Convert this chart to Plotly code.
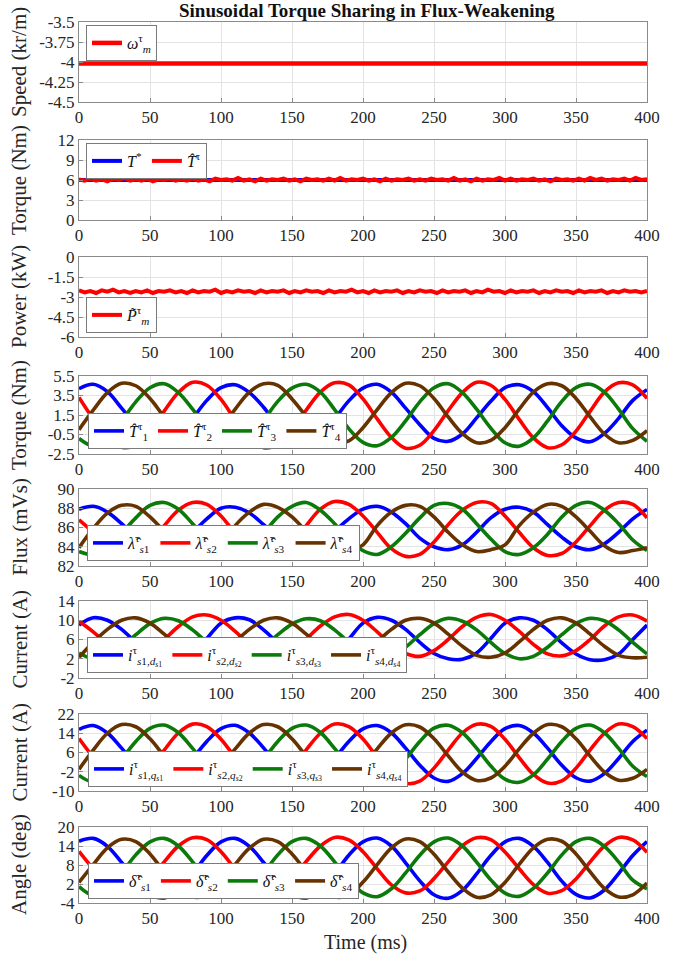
import plotly.graph_objects as go

# ---------------- data ----------------
t_slow = [0, 50, 100, 150, 200, 250, 300, 350, 400]
speed_krpm = [-4.02, -4.02, -4.025, -4.02, -4.02, -4.02, -4.015, -4.02, -4.02]

t_fast = list(range(0, 401, 4))
torque_ref = [6.0] * len(t_fast)
torque_est = [6.1, 5.9, 6.2, 5.9, 6.1, 5.8, 6.2, 6.0, 6.3, 5.9,
              6.1, 5.9, 6.2, 5.8, 6.1, 6.0, 6.2, 5.9, 6.1, 5.9,
              6.2, 5.9, 6.1, 5.8, 6.2, 6.0, 6.1, 5.9, 6.3, 5.9,
              6.1, 5.8, 6.2, 5.9, 6.1, 6.0, 6.2, 5.9, 6.1, 5.8,
              6.2, 6.0, 6.1, 5.9, 6.2, 5.9, 6.3, 5.9, 6.1, 6.0,
              6.2, 5.9, 6.1, 5.8, 6.2, 5.9, 6.1, 6.0, 6.2, 5.9,
              6.1, 5.9, 6.2, 6.0, 6.1, 5.9, 6.3, 5.9, 6.1, 5.8,
              6.2, 5.9, 6.1, 6.0, 6.3, 5.9, 6.2, 5.9, 6.1, 6.0,
              6.2, 5.9, 6.1, 5.8, 6.2, 6.0, 6.1, 5.9, 6.2, 5.9,
              6.3, 6.0, 6.2, 5.9, 6.1, 6.0, 6.2, 5.9, 6.3, 6.0, 6.1]
power_kw = [-2.50, -2.65, -2.55, -2.70, -2.50, -2.60, -2.45, -2.65, -2.55, -2.70,
            -2.55, -2.65, -2.50, -2.70, -2.55, -2.60, -2.50, -2.65, -2.55, -2.70,
            -2.50, -2.65, -2.55, -2.60, -2.45, -2.70, -2.55, -2.65, -2.50, -2.60,
            -2.55, -2.70, -2.50, -2.65, -2.55, -2.60, -2.50, -2.70, -2.55, -2.65,
            -2.50, -2.60, -2.55, -2.70, -2.50, -2.65, -2.55, -2.60, -2.45, -2.65,
            -2.55, -2.70, -2.50, -2.65, -2.55, -2.60, -2.50, -2.70, -2.55, -2.65,
            -2.50, -2.60, -2.55, -2.70, -2.50, -2.65, -2.55, -2.60, -2.50, -2.70,
            -2.55, -2.65, -2.45, -2.60, -2.55, -2.70, -2.50, -2.65, -2.55, -2.60,
            -2.50, -2.70, -2.55, -2.65, -2.50, -2.60, -2.55, -2.70, -2.50, -2.65,
            -2.55, -2.60, -2.50, -2.70, -2.55, -2.65, -2.50, -2.60, -2.55, -2.65, -2.55]

t_ms = list(range(0, 401, 10))

torque_1 = [4.20, 4.65, 3.90, 2.20, 0.45, -0.90, -1.20, -0.40, 1.15, 3.00,
            4.30, 4.60, 3.80, 2.30, 0.40, -0.85, -1.25, -0.50, 1.10, 2.95,
            4.25, 4.65, 3.85, 2.20, 0.50, -0.90, -1.20, -0.45, 1.20, 2.90,
            4.30, 4.60, 3.90, 2.25, 0.40, -0.85, -1.25, -0.40, 1.15, 3.00, 4.10]
torque_2 = [3.30, 1.10, -0.80, -1.80, -1.60, -0.10, 1.90, 3.80, 4.85, 4.55,
            3.10, 1.00, -0.85, -1.85, -1.55, -0.15, 2.00, 3.85, 4.80, 4.60,
            3.15, 1.10, -0.80, -1.90, -1.60, -0.10, 1.95, 3.80, 4.85, 4.55,
            3.10, 1.05, -0.85, -1.85, -1.55, -0.15, 1.90, 3.85, 4.80, 4.60, 3.20]
torque_3 = [-0.90, -1.65, -0.80, 0.90, 2.85, 4.30, 4.70, 3.80, 2.10, 0.15,
            -1.30, -1.70, -0.85, 0.95, 2.90, 4.25, 4.65, 3.85, 2.05, 0.10,
            -1.30, -1.65, -0.80, 0.90, 2.85, 4.30, 4.70, 3.80, 2.10, 0.15,
            -1.35, -1.70, -0.85, 0.90, 2.90, 4.30, 4.65, 3.85, 2.10, 0.10, -1.20]
torque_4 = [0.00, 2.00, 3.80, 4.75, 4.50, 3.20, 1.30, -0.40, -1.35, -1.10,
            0.15, 2.10, 3.85, 4.70, 4.55, 3.15, 1.35, -0.45, -1.30, -1.15,
            0.20, 2.05, 3.80, 4.75, 4.50, 3.20, 1.30, -0.40, -1.35, -1.10,
            0.20, 2.10, 3.85, 4.70, 4.50, 3.20, 1.30, -0.45, -1.35, -1.10, -0.10]

flux_1 = [87.9, 88.2, 87.6, 86.4, 85.0, 84.0, 83.7, 84.3, 85.5, 86.9,
          88.0, 88.1, 87.5, 86.3, 85.0, 83.9, 83.8, 84.3, 85.6, 86.9,
          87.9, 88.2, 87.6, 86.4, 84.9, 84.0, 83.7, 84.2, 85.5, 87.0,
          87.9, 88.1, 87.6, 86.3, 85.0, 84.0, 83.7, 84.3, 85.5, 86.9, 87.9]
flux_2 = [86.8, 85.5, 83.9, 83.1, 83.3, 84.5, 86.2, 87.8, 88.6, 88.4,
          87.2, 85.4, 83.9, 83.0, 83.3, 84.4, 86.2, 87.9, 88.7, 88.4,
          87.2, 85.5, 83.8, 83.0, 83.2, 84.5, 86.3, 87.8, 88.6, 88.5,
          87.2, 85.5, 83.9, 83.1, 83.3, 84.5, 86.2, 87.8, 88.6, 88.4, 87.0]
flux_3 = [83.5, 83.2, 83.9, 85.4, 87.0, 88.3, 88.6, 87.9, 86.4, 84.8,
          83.5, 83.3, 83.9, 85.4, 87.1, 88.2, 88.6, 87.8, 86.4, 84.7,
          83.6, 83.2, 84.0, 85.4, 87.0, 88.3, 88.5, 87.9, 86.4, 84.8,
          83.5, 83.2, 83.9, 85.3, 87.1, 88.3, 88.6, 87.8, 86.4, 84.7, 83.6]
flux_4 = [83.9, 85.9, 87.5, 88.3, 88.2, 87.1, 85.6, 84.2, 83.5, 83.6,
          84.2, 86.2, 87.6, 88.4, 88.1, 87.1, 85.6, 84.2, 83.4, 83.6,
          84.2, 86.2, 87.6, 88.3, 88.2, 87.1, 85.5, 84.2, 83.5, 83.7,
          84.2, 86.2, 87.6, 88.4, 88.2, 87.1, 85.6, 84.1, 83.4, 83.6, 83.9]

id_1 = [9.0, 10.5, 10.0, 8.1, 5.4, 3.0, 2.0, 1.9, 3.2, 6.2,
        9.4, 10.5, 10.1, 8.0, 5.3, 3.0, 1.9, 2.0, 3.1, 6.1,
        9.4, 10.6, 10.0, 8.1, 5.4, 3.1, 2.0, 1.9, 3.2, 6.2,
        9.4, 10.5, 10.0, 8.0, 5.3, 3.0, 1.8, 1.8, 3.0, 6.0, 9.0]
id_2 = [9.8, 7.6, 5.0, 3.0, 2.6, 3.7, 6.0, 8.7, 10.7, 11.1,
        10.0, 7.7, 5.0, 3.0, 2.5, 3.6, 6.1, 8.8, 10.7, 11.2,
        10.0, 7.6, 4.9, 3.1, 2.5, 3.7, 6.0, 8.7, 10.6, 11.2,
        10.0, 7.7, 5.0, 3.0, 2.6, 3.7, 6.0, 8.8, 10.7, 11.1, 9.8]
id_3 = [3.2, 2.0, 2.5, 4.4, 7.0, 9.3, 10.4, 9.9, 8.0, 5.4,
        3.1, 2.0, 2.5, 4.4, 7.0, 9.2, 10.3, 9.9, 8.0, 5.4,
        3.1, 2.0, 2.6, 4.4, 7.0, 9.3, 10.4, 9.8, 8.0, 5.4,
        3.1, 2.0, 2.5, 4.4, 7.0, 9.3, 10.4, 9.9, 8.0, 5.4, 3.0]
id_4 = [2.3, 5.4, 8.1, 10.0, 10.5, 9.4, 7.1, 4.6, 2.7, 2.2,
        3.2, 5.6, 8.1, 10.0, 10.5, 9.4, 7.1, 4.6, 2.7, 2.2,
        3.3, 5.6, 8.1, 10.0, 10.4, 9.4, 7.1, 4.6, 2.7, 2.3,
        3.2, 5.5, 8.1, 10.0, 10.5, 9.4, 7.1, 4.6, 2.7, 2.2, 2.3]

iq_1 = [15.6, 17.2, 14.1, 7.8, 0.7, -4.6, -5.9, -2.8, 3.5, 10.6,
        15.9, 17.3, 14.1, 7.9, 0.6, -4.5, -5.9, -2.9, 3.4, 10.6,
        15.8, 17.2, 14.2, 7.8, 0.7, -4.6, -6.0, -2.8, 3.5, 10.5,
        15.9, 17.2, 14.1, 7.8, 0.7, -4.5, -5.9, -2.8, 3.5, 10.6, 15.3]
iq_2 = [11.8, 4.0, -3.0, -6.7, -5.8, -0.5, 7.0, 14.1, 17.8, 16.8,
        11.5, 3.9, -3.1, -6.8, -5.8, -0.6, 7.1, 14.0, 17.8, 16.8,
        11.6, 4.0, -3.0, -6.8, -5.9, -0.5, 7.0, 14.1, 17.7, 16.9,
        11.5, 3.9, -3.1, -6.7, -5.8, -0.5, 7.1, 14.0, 17.8, 16.8, 11.8]
iq_3 = [-3.5, -6.2, -3.2, 3.3, 10.6, 16.0, 17.4, 14.2, 7.7, 0.4,
        -5.0, -6.4, -3.3, 3.2, 10.6, 16.0, 17.4, 14.3, 7.7, 0.4,
        -5.0, -6.4, -3.2, 3.3, 10.6, 16.1, 17.3, 14.2, 7.8, 0.4,
        -5.1, -6.4, -3.3, 3.3, 10.6, 16.0, 17.4, 14.2, 7.7, 0.3, -4.0]
iq_4 = [-1.0, 7.0, 14.0, 17.6, 16.7, 11.7, 4.5, -2.1, -5.6, -4.7,
        0.3, 7.5, 14.1, 17.6, 16.7, 11.7, 4.5, -2.0, -5.6, -4.7,
        0.3, 7.5, 14.1, 17.5, 16.6, 11.7, 4.6, -2.1, -5.6, -4.6,
        0.3, 7.5, 14.0, 17.6, 16.7, 11.7, 4.5, -2.1, -5.5, -4.7, -1.0]

angle_1 = [15.5, 16.4, 13.9, 8.8, 3.0, -1.3, -2.4, 0.1, 5.2, 11.0,
           15.3, 16.4, 13.9, 8.8, 2.9, -1.3, -2.4, 0.1, 5.2, 11.1,
           15.3, 16.5, 14.0, 8.7, 3.0, -1.4, -2.5, 0.0, 5.2, 11.0,
           15.3, 16.4, 13.9, 8.8, 2.9, -1.3, -2.4, 0.1, 5.3, 11.0, 15.4]
angle_2 = [12.3, 6.8, 1.8, -0.8, -0.2, 3.6, 9.0, 14.0, 16.6, 16.0,
           12.2, 6.7, 1.8, -0.9, -0.1, 3.6, 9.1, 14.0, 16.7, 15.9,
           12.2, 6.8, 1.7, -0.8, -0.2, 3.7, 9.0, 14.1, 16.6, 16.0,
           12.1, 6.8, 1.8, -0.9, -0.1, 3.6, 9.0, 14.0, 16.7, 15.9, 12.0]
angle_3 = [1.2, -1.5, 0.5, 5.5, 11.2, 15.3, 16.4, 14.0, 9.0, 3.3,
           -0.9, -1.9, 0.5, 5.5, 11.2, 15.4, 16.4, 14.0, 9.0, 3.3,
           -0.8, -2.0, 0.5, 5.5, 11.1, 15.3, 16.5, 14.0, 8.9, 3.3,
           -0.9, -1.9, 0.6, 5.5, 11.2, 15.4, 16.4, 13.9, 9.0, 3.2, 0.5]
angle_4 = [2.5, 8.1, 13.4, 16.1, 15.4, 11.5, 5.8, 0.6, -2.1, -1.4,
           2.5, 8.2, 13.3, 16.1, 15.4, 11.5, 5.9, 0.6, -2.1, -1.5,
           2.6, 8.1, 13.4, 16.2, 15.4, 11.4, 5.8, 0.7, -2.2, -1.4,
           2.5, 8.2, 13.4, 16.1, 15.5, 11.5, 5.8, 0.6, -2.1, -1.4, 2.3]

x_ticks = [0, 50, 100, 150, 200, 250, 300, 350, 400]
y_titles = ["Speed (kr/m)", "Torque (Nm)", "Power (kW)", "Torque (Nm)",
            "Flux (mVs)", "Current (A)", "Current (A)", "Angle (deg)"]
y_ranges = [[-4.5, -3.5], [0, 12], [-6, 0], [-2.5, 5.5], [82, 90], [-2, 14], [-10, 22], [-4, 20]]
y_tickvals = [[-4.5, -4.25, -4, -3.75, -3.5], [0, 3, 6, 9, 12], [-6, -4.5, -3, -1.5, 0],
              [-2.5, -0.5, 1.5, 3.5, 5.5], [82, 84, 86, 88, 90], [-2, 2, 6, 10, 14],
              [-10, -2, 6, 14, 22], [-4, 2, 8, 14, 20]]
y_ticktext = [["-4.5", "-4.25", "-4", "-3.75", "-3.5"], ["0", "3", "6", "9", "12"],
              ["-6", "-4.5", "-3", "-1.5", "0"], ["-2.5", "-0.5", "1.5", "3.5", "5.5"],
              ["82", "84", "86", "88", "90"], ["-2", "2", "6", "10", "14"],
              ["-10", "-2", "6", "14", "22"], ["-4", "2", "8", "14", "20"]]

# ---------------- styling / layout ----------------
W, H = 681, 956
PX_LEFT, PX_RIGHT = 79, 647   # plot area edges in page pixels
L = PX_LEFT
R = W - PX_RIGHT
PW = W - L - R


def fx(px):
    return (px - L) / PW


def fy(py):
    return 1 - py / H


panels = [(22, 102), (140, 220), (257, 337), (376, 454),
          (489, 566), (601, 678), (714, 791), (827, 903)]
FONT = "Liberation Serif"
BLUE, RED, GREEN, BROWN = "#0000ff", "#ff0000", "#0b7a0b", "#663300"
GRID = "#e3e3e3"
AXC = "#8a8a8a"
TXT = "#262626"

fig = go.Figure()


def add(n, x, y, color, name, width=3.6, shape="spline"):
    fig.add_trace(go.Scatter(
        x=x, y=y, mode="lines", name=name, showlegend=True,
        line=dict(color=color, width=width, shape=shape),
        xaxis=f"x{n}", yaxis=f"y{n}",
        legend="legend" if n == 1 else f"legend{n}"))


add(1, t_slow, speed_krpm, RED, "<i>ω</i><sup>τ</sup><sub><i>m</i></sub>", width=4.5, shape="linear")
add(2, t_fast, torque_ref, BLUE, "<i>T</i><sup>*</sup>", width=4, shape="linear")
add(2, t_fast, torque_est, RED, "<i>T̂</i><sup>τ</sup>", width=4, shape="linear")
add(3, t_fast, power_kw, RED, "<i>P̃</i><sup>τ</sup><sub><i>m</i></sub>", width=4, shape="linear")

sets = [
    (4, [torque_1, torque_2, torque_3, torque_4], "<i>T̂</i><sup>τ</sup><sub>{k}</sub>"),
    (5, [flux_1, flux_2, flux_3, flux_4], "<i>λ̂</i><sup>τ</sup><sub><i>s</i>{k}</sub>"),
    (6, [id_1, id_2, id_3, id_4], "<i>i</i><sup>τ</sup><sub><i>s</i>{k},<i>d</i><sub><i>s</i>{k}</sub></sub>"),
    (7, [iq_1, iq_2, iq_3, iq_4], "<i>i</i><sup>τ</sup><sub><i>s</i>{k},<i>q</i><sub><i>s</i>{k}</sub></sub>"),
    (8, [angle_1, angle_2, angle_3, angle_4], "<i>δ̂</i><sup>τ</sup><sub><i>s</i>{k}</sub>"),
]
colors = [BLUE, RED, GREEN, BROWN]
for n, series, fmt in sets:
    for k, (ys, c) in enumerate(zip(series, colors), start=1):
        add(n, t_ms, ys, c, fmt.format(k=k))

layout = dict(
    width=W, height=H, autosize=False, template="none", showlegend=True,
    paper_bgcolor="white", plot_bgcolor="white",
    margin=dict(l=L, r=R, t=0, b=0),
    font=dict(family=FONT, size=17, color=TXT),
)

legend_boxes = {1: (86, 25, "top"), 2: (86, 143, "top"), 3: (86, 333, "bottom"),
                4: (88, 449, "bottom"), 5: (87, 561, "bottom"), 6: (87, 673, "bottom"),
                7: (88, 787, "bottom"), 8: (88, 899, "bottom")}

annotations = []
for i, (top, bot) in enumerate(panels):
    n = i + 1
    sfx = "" if n == 1 else str(n)
    common = dict(showgrid=True, gridcolor=GRID, gridwidth=1, zeroline=False,
                  showline=True, linecolor=AXC, linewidth=1, mirror=True,
                  ticks="inside", ticklen=4, tickcolor=AXC,
                  tickfont=dict(family=FONT, size=17, color=TXT), automargin=False)
    layout[f"xaxis{sfx}"] = dict(domain=[0, 1], anchor=f"y{n}", range=[0, 400],
                                 tickvals=x_ticks, ticktext=[str(v) for v in x_ticks], **common)
    layout[f"yaxis{sfx}"] = dict(domain=[fy(bot), fy(top)], anchor=f"x{n}", range=y_ranges[i],
                                 tickvals=y_tickvals[i], ticktext=y_ticktext[i], **common)
    px, py, anc = legend_boxes[n]
    layout["legend" if n == 1 else f"legend{n}"] = dict(
        x=fx(px), y=fy(py), xanchor="left", yanchor=anc,
        xref="paper", yref="paper", visible=True,
        orientation="h" if n not in (1, 3) else "v",
        bgcolor="white", bordercolor="#7a7a7a", borderwidth=1,
        font=dict(family=FONT, size=16, color="#111111"),
        itemwidth=30, tracegroupgap=0, traceorder="normal")
    annotations.append(dict(text=y_titles[i], xref="paper", yref="paper",
                            x=fx(19), y=fy((top + bot) / 2),
                            xanchor="center", yanchor="middle", textangle=-90,
                            showarrow=False, font=dict(family=FONT, size=21, color=TXT)))

annotations.append(dict(text="<b>Sinusoidal Torque Sharing in Flux-Weakening</b>",
                        xref="paper", yref="paper", x=fx(367), y=fy(11),
                        xanchor="center", yanchor="middle", showarrow=False,
                        font=dict(family=FONT, size=19, color="#111111")))
annotations.append(dict(text="Time (ms)", xref="paper", yref="paper",
                        x=fx(365), y=fy(942), xanchor="center", yanchor="middle",
                        showarrow=False, font=dict(family=FONT, size=20, color=TXT)))
layout["annotations"] = annotations

fig.update_layout(**layout)
fig.write_html("out.html", config={"displayModeBar": False},
               post_script="document.body.style.margin='0';document.body.style.padding='0';")
